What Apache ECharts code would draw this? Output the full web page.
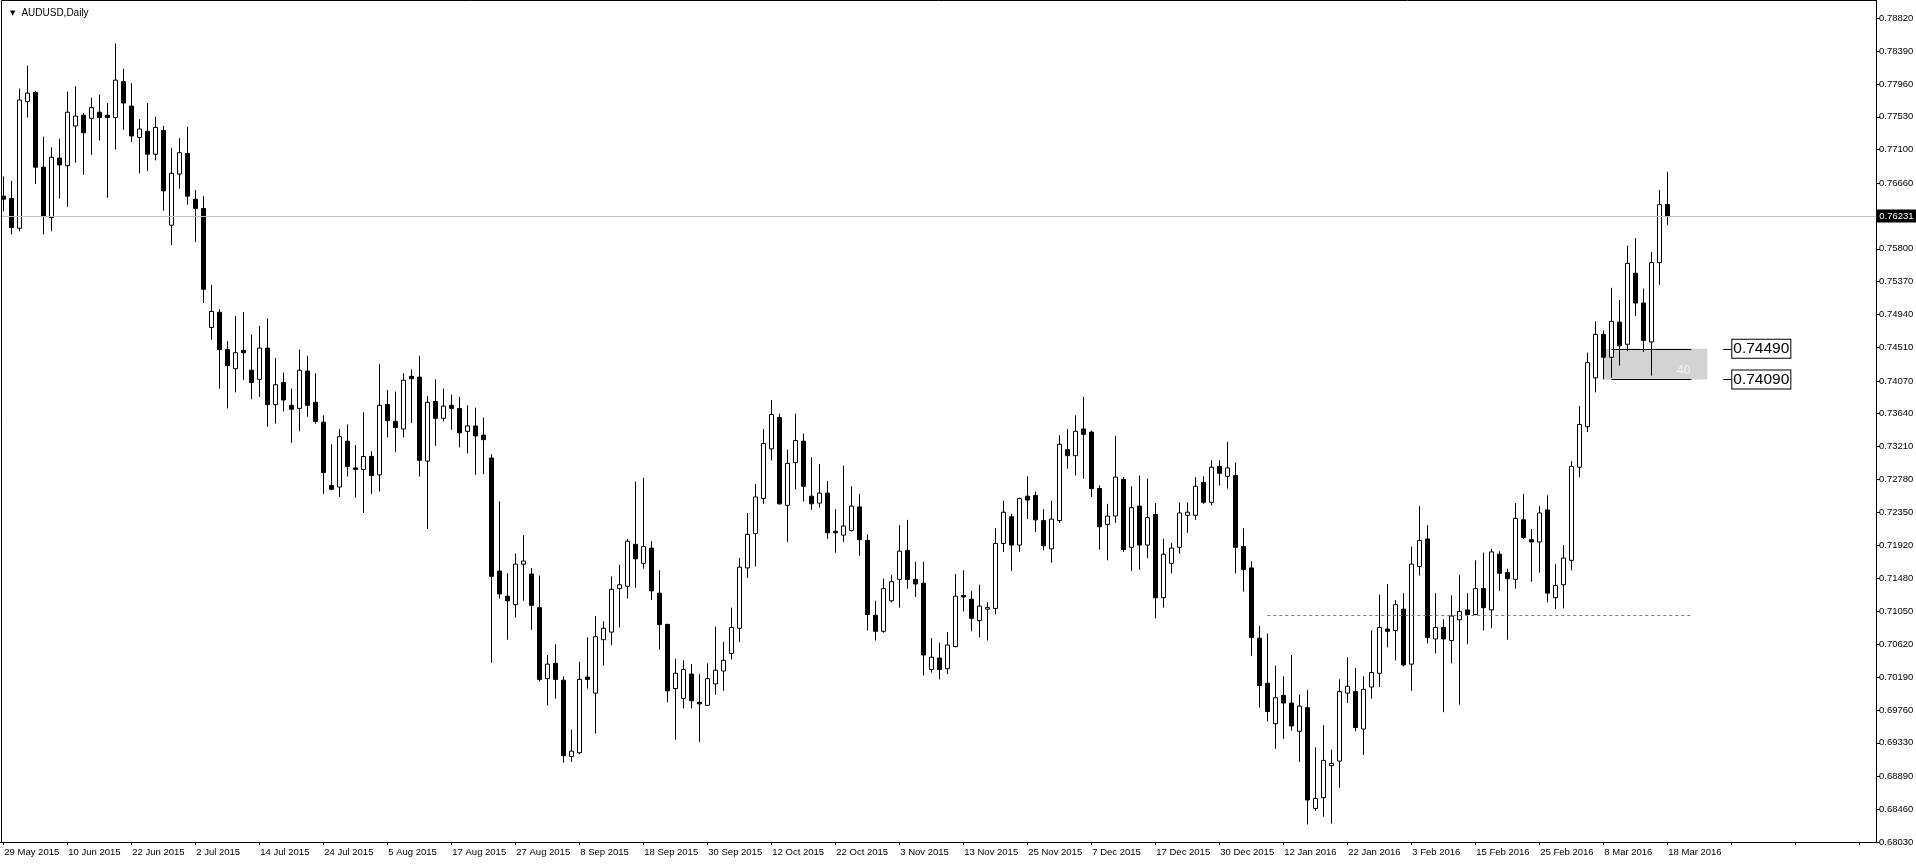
<!DOCTYPE html>
<html><head><meta charset="utf-8">
<script src="https://cdn.jsdelivr.net/npm/echarts@6/dist/echarts.min.js"></script>
<style>html,body{margin:0;padding:0;background:#fff;overflow:hidden}#c{width:1916px;height:866px}</style>
</head><body><div id="c"></div>
<script>
const chartTitle = 'AUDUSD,Daily';
const dateLabels = ['29 May 2015','10 Jun 2015','22 Jun 2015','2 Jul 2015','14 Jul 2015','24 Jul 2015','5 Aug 2015','17 Aug 2015','27 Aug 2015','8 Sep 2015','18 Sep 2015','30 Sep 2015','12 Oct 2015','22 Oct 2015','3 Nov 2015','13 Nov 2015','25 Nov 2015','7 Dec 2015','17 Dec 2015','30 Dec 2015','12 Jan 2016','22 Jan 2016','3 Feb 2016','15 Feb 2016','25 Feb 2016','8 Mar 2016','18 Mar 2016'];
const priceTicks = [0.78820,0.78390,0.77960,0.77530,0.77100,0.76660,0.75800,0.75370,0.74940,0.74510,0.74070,0.73640,0.73210,0.72780,0.72350,0.71920,0.71480,0.71050,0.70620,0.70190,0.69760,0.69330,0.68890,0.68460,0.68030];

const open = [.7649,.7646,.7607,.7773,.7785,.7687,.7621,.7699,.7689,.7741,.7755,.7751,.7759,.7755,.7752,.7799,.7767,.7726,.7734,.7704,
.7735,.7611,.7678,.7705,.7645,.7633,.7477,.7497,.7448,.7423,.7447,.7421,.7409,.7450,.7376,.7405,.7375,.7371,.7420,.7379,
.7353,.7270,.7268,.7328,.7293,.7291,.7308,.7284,.7376,.7354,.7344,.7413,.7412,.7302,.7380,.7358,.7375,.7371,.7341,.7348,
.7336,.7306,.7158,.7125,.7114,.7167,.7154,.7110,.7017,.7037,.7015,.6915,.6920,.7019,.6998,.7068,.7078,.7135,.7138,.7193,
.7168,.7188,.7129,.7088,.7004,.6991,.7023,.6986,.6982,.7010,.7027,.7050,.7083,.7162,.7207,.7253,.7318,.7359,.7244,.7300,
.7328,.7256,.7247,.7260,.7210,.7205,.7211,.7242,.7198,.7100,.7079,.7119,.7147,.7185,.7147,.7142,.7029,.7044,.7030,.7059,
.7126,.7121,.7093,.7108,.7109,.7194,.7229,.7192,.7256,.7257,.7224,.7187,.7224,.7317,.7309,.7344,.7340,.7266,.7219,.7230,
.7278,.7189,.7243,.7192,.7232,.7123,.7168,.7189,.7231,.7231,.7274,.7248,.7295,.7282,.7283,.7190,.7162,.7070,.7011,.6958,
.6995,.6985,.6948,.6979,.6847,.6861,.6903,.6909,.6998,.7000,.6951,.7006,.7024,.7082,.7080,.7108,.7036,.7164,.7200,.7069,
.7084,.7067,.7094,.7107,.7101,.7135,.7107,.7180,.7156,.7147,.7225,.7199,.7196,.7238,.7123,.7140,.7172,.7294,.7347,.7411,
.7468,.7438,.7484,.7455,.7548,.7509,.7458,.7562,.7638];
const close = [.7645,.7608,.7775,.7784,.7687,.7623,.7700,.7690,.7759,.7754,.7732,.7765,.7752,.7752,.7801,.7771,.7728,.7737,.7704,.7739,
.7656,.7679,.7706,.7649,.7633,.7527,.7498,.7448,.7427,.7444,.7444,.7405,.7450,.7376,.7402,.7382,.7370,.7421,.7375,.7354,
.7287,.7265,.7334,.7295,.7291,.7308,.7283,.7375,.7355,.7346,.7408,.7410,.7303,.7379,.7358,.7374,.7371,.7339,.7348,.7335,
.7330,.7151,.7128,.7119,.7167,.7171,.7113,.7016,.7036,.7016,.6916,.6922,.7016,.7016,.7072,.7083,.7134,.7140,.7197,.7174,
.7190,.7132,.7088,.7001,.7024,.7029,.6988,.6984,.7017,.7028,.7041,.7084,.7163,.7206,.7255,.7325,.7363,.7246,.7299,.7329,
.7269,.7246,.7260,.7208,.7208,.7217,.7243,.7199,.7101,.7079,.7135,.7144,.7184,.7147,.7141,.7048,.7045,.7029,.7061,.7125,
.7124,.7096,.7112,.7110,.7194,.7235,.7192,.7253,.7251,.7225,.7191,.7226,.7324,.7309,.7341,.7337,.7266,.7216,.7230,.7281,
.7186,.7241,.7192,.7228,.7123,.7180,.7188,.7234,.7235,.7269,.7248,.7294,.7286,.7293,.7189,.7160,.7071,.7008,.6974,.6992,
.6985,.6955,.6981,.6858,.6860,.6910,.6906,.7000,.7007,.6953,.7003,.7025,.7084,.7079,.7114,.7035,.7167,.7198,.7071,.7084,
.7069,.7099,.7105,.7101,.7135,.7110,.7183,.7155,.7148,.7227,.7202,.7196,.7234,.7129,.7139,.7175,.7295,.7350,.7431,.7468,
.7438,.7485,.7453,.7561,.7509,.7460,.7562,.7638,.76231];
const low = [.7629,.7599,.7603,.7752,.7665,.7599,.7603,.7646,.7635,.7693,.7677,.7703,.7722,.7647,.7710,.7736,.7720,.7679,.7682,.7696,
.7630,.7585,.7659,.7638,.7589,.7509,.7461,.7397,.7371,.7392,.7408,.7383,.7386,.7347,.7351,.7367,.7326,.7341,.7360,.7351,
.7259,.7264,.7255,.7282,.7254,.7234,.7259,.7262,.7333,.7314,.7333,.7352,.7282,.7213,.7322,.7354,.7343,.7320,.7312,.7284,
.7285,.7038,.7122,.7068,.7097,.7119,.7081,.7013,.6982,.6991,.6907,.6908,.6918,.7004,.6945,.7034,.7061,.7084,.7122,.7136,
.7161,.7120,.7055,.6986,.6937,.6978,.6978,.6934,.6981,.6996,.7001,.7042,.7065,.7149,.7164,.7246,.7303,.7245,.7196,.7265,
.7249,.7238,.7241,.7200,.7182,.7196,.7210,.7178,.7080,.7067,.7077,.7117,.7110,.7135,.7124,.7021,.7025,.7016,.7023,.7058,
.7105,.7079,.7071,.7067,.7101,.7183,.7158,.7183,.7226,.7209,.7185,.7169,.7221,.7292,.7283,.7279,.7255,.7186,.7172,.7221,
.7183,.7158,.7160,.7175,.7096,.7110,.7155,.7181,.7208,.7225,.7246,.7244,.7270,.7266,.7155,.7131,.7047,.6979,.6961,.6925,
.6938,.6949,.6908,.6826,.6844,.6836,.6827,.6874,.6985,.6948,.6917,.6991,.7006,.7058,.7041,.7033,.7001,.7152,.7063,.7050,
.6973,.7037,.6983,.7062,.7100,.7080,.7083,.7132,.7068,.7135,.7200,.7144,.7156,.7117,.7108,.7109,.7159,.7281,.7340,.7392,
.7409,.7411,.7427,.7446,.7492,.7445,.7414,.7533,.7611];
const high = [.7675,.7669,.7790,.7820,.7787,.7727,.7713,.7724,.7786,.7793,.7758,.7778,.7782,.7771,.7849,.7816,.7797,.7750,.7771,.7753,
.7741,.7712,.7725,.7740,.7657,.7649,.7533,.7501,.7459,.7492,.7497,.7468,.7479,.7489,.7437,.7418,.7397,.7448,.7440,.7417,
.7362,.7324,.7344,.7350,.7323,.7366,.7315,.7429,.7395,.7393,.7417,.7422,.7440,.7387,.7409,.7397,.7389,.7386,.7375,.7372,
.7359,.7311,.7249,.7155,.7181,.7205,.7162,.7152,.7048,.7062,.7020,.6950,.7039,.7071,.7099,.7092,.7151,.7166,.7200,.7275,
.7280,.7197,.7159,.7089,.7043,.7041,.7036,.7023,.7037,.7085,.7065,.7110,.7175,.7234,.7272,.7344,.7382,.7364,.7317,.7364,
.7338,.7307,.7298,.7276,.7239,.7296,.7269,.7259,.7206,.7119,.7148,.7153,.7218,.7225,.7170,.7170,.7070,.7064,.7078,.7154,
.7159,.7132,.7140,.7117,.7214,.7250,.7233,.7254,.7282,.7262,.7239,.7250,.7336,.7344,.7362,.7386,.7342,.7270,.7246,.7335,
.7281,.7269,.7283,.7279,.7247,.7200,.7195,.7248,.7248,.7281,.7282,.7303,.7303,.7327,.7300,.7214,.7171,.7086,.7076,.7034,
.7020,.7048,.6996,.7002,.6927,.6956,.6924,.7016,.7045,.7031,.7020,.7080,.7127,.7141,.7120,.7129,.7190,.7243,.7218,.7129,
.7095,.7126,.7153,.7129,.7172,.7182,.7187,.7184,.7161,.7247,.7259,.7213,.7243,.7257,.7167,.7192,.7302,.7374,.7444,.7485,
.7473,.7529,.7513,.7584,.7594,.7528,.7576,.7657,.7681];

const lastPrice = 0.76231;
const zoneLevels = [0.74490, 0.74090];
const zoneLabel = '40';
const zoneSpan = [200, 213];
const zoneLineSpan = [201, 211];
const zoneTagSpan = [215, 216];
const supportLevel = 0.71000;
const supportSpan = [158, 211];
const slotCount = 235;

const categories = [];
for (let i = 0; i < slotCount; i++) {
  categories.push(i % 8 === 0 && dateLabels[i / 8] ? dateLabels[i / 8] : '');
}
const candles = open.map((o, i) => [o, close[i], low[i], high[i]]);

const FONT = 'Liberation Sans';
const chart = echarts.init(document.getElementById('c'), null, {renderer: 'canvas'});
const tagLabel = (v) => ({
  show: true, position: 'end', distance: 1, formatter: v.toFixed(5),
  fontFamily: FONT, fontSize: 15.5, color: '#000', backgroundColor: '#fff',
  borderColor: '#000', borderWidth: 1, padding: [1, 1, 0, 1], lineHeight: 17
});
chart.setOption({
  animation: false,
  backgroundColor: '#fff',
  textStyle: {fontFamily: FONT},
  title: {
    text: '{t|▼}{g|}' + chartTitle, left: 5, top: 3,
    textStyle: {fontSize: 10, fontWeight: 'normal', color: '#000', fontFamily: FONT,
      rich: {t: {fontSize: 7, color: '#000', fontFamily: 'DejaVu Sans'}, g: {width: 6}}}
  },
  graphic: [{
    type: 'polyline', silent: true, z: 100,
    shape: {points: [[1.5, 842], [1.5, 0.5], [1876, 0.5]]},
    style: {stroke: '#000', lineWidth: 1, fill: null}
  }],
  grid: {left: -0.7, right: 36.7, top: 0, bottom: 24, containLabel: false, outerBoundsMode: 'none'},
  xAxis: {
    type: 'category', data: categories, boundaryGap: true,
    axisLine: {show: true, lineStyle: {color: '#000', width: 1}},
    axisTick: {show: true, alignWithLabel: true, interval: 7, length: 3, lineStyle: {color: '#000'}},
    axisLabel: {show: true, interval: 7, align: 'left', margin: 5, padding: [0, 0, 0, 1],
      fontSize: 9.5, color: '#000', fontFamily: FONT},
    splitLine: {show: false}
  },
  yAxis: {
    type: 'value', position: 'right', offset: -3.3, min: 0.68030, max: 0.79060, scale: true,
    axisLine: {show: true, lineStyle: {color: '#000', width: 1}},
    axisTick: {show: true, length: 4, customValues: priceTicks, lineStyle: {color: '#000'}},
    axisLabel: {show: true, customValues: priceTicks, margin: 3, fontSize: 9.5, color: '#000',
      fontFamily: FONT, formatter: (v) => v.toFixed(5)},
    splitLine: {show: false}
  },
  series: [{
    type: 'candlestick', data: candles, barWidth: 5,
    itemStyle: {color: '#fff', color0: '#000', borderColor: '#000', borderColor0: '#000',
      borderColorDoji: '#000', borderWidth: 1},
    emphasis: {disabled: true},
    markArea: {
      silent: true, precision: 5,
      data: [[
        {coord: [zoneSpan[0], zoneLevels[0]], itemStyle: {color: '#d3d3d3'},
         label: {show: true, formatter: zoneLabel, position: 'insideBottomRight', distance: 3,
           offset: [-14, 0], color: '#f4f4f4', fontSize: 12, fontFamily: FONT}},
        {coord: [zoneSpan[1], zoneLevels[1]]}
      ]]
    },
    markLine: {
      silent: true, symbol: ['none', 'none'], animation: false, precision: 5,
      data: [
        {yAxis: lastPrice, lineStyle: {color: '#c0c0c0', width: 1, type: 'solid'},
         label: {show: true, position: 'end', distance: -3, formatter: lastPrice.toFixed(5),
           backgroundColor: '#000', color: '#fff', fontSize: 9.5, fontFamily: FONT, padding: [2, 4, 1, 3]}},
        [{coord: [supportSpan[0], supportLevel], lineStyle: {color: '#1e90ff', width: 1, type: [3, 3]}, label: {show: false}},
         {coord: [supportSpan[1], supportLevel]}],
        [{coord: [zoneLineSpan[0], zoneLevels[0]], lineStyle: {color: '#000', width: 1, type: 'solid'}, label: {show: false}},
         {coord: [zoneLineSpan[1], zoneLevels[0]]}],
        [{coord: [zoneLineSpan[0], zoneLevels[1]], lineStyle: {color: '#000', width: 1, type: 'solid'}, label: {show: false}},
         {coord: [zoneLineSpan[1], zoneLevels[1]]}],
        [{coord: [zoneTagSpan[0], zoneLevels[0]], lineStyle: {color: '#000', width: 1, type: 'solid'}, label: tagLabel(zoneLevels[0])},
         {coord: [zoneTagSpan[1], zoneLevels[0]]}],
        [{coord: [zoneTagSpan[0], zoneLevels[1]], lineStyle: {color: '#000', width: 1, type: 'solid'}, label: tagLabel(zoneLevels[1])},
         {coord: [zoneTagSpan[1], zoneLevels[1]]}]
      ]
    }
  }]
});
</script>
</body></html>
